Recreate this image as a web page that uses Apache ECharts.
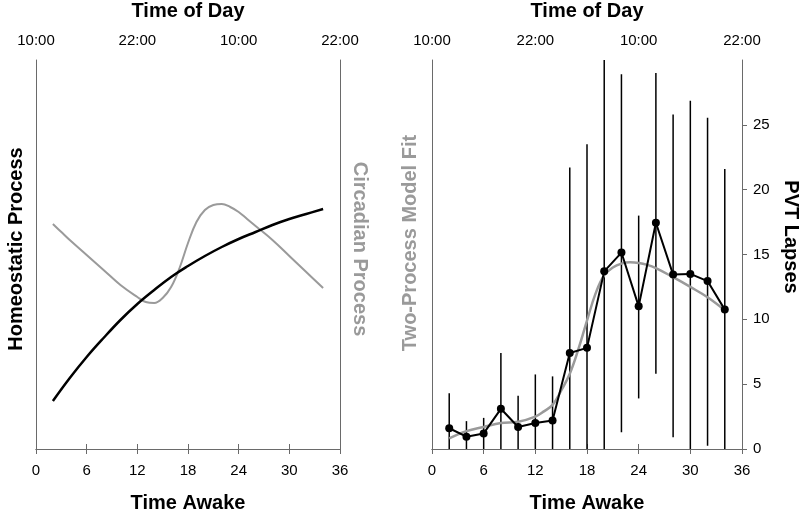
<!DOCTYPE html>
<html><head><meta charset="utf-8">
<script src="https://cdn.jsdelivr.net/npm/echarts@6/dist/echarts.min.js"></script>
<style>html,body{margin:0;padding:0;background:#fff}#c{width:800px;height:510px}</style>
</head><body><div id="c"></div>
<script>
// ---- data ----
const awakeMin = 0, awakeMax = 36, awakeStep = 6;
const dayTickLabels = {0: '10:00', 12: '22:00', 24: '10:00', 36: '22:00'};
const homeoT   = [2, 4, 6, 8, 10, 12, 14, 16, 18, 20, 22, 24, 26, 28, 30, 32, 34];
const homeoVal = [48, 71, 92, 111, 129, 145, 159, 172, 183, 193, 202, 210, 217, 224, 230, 235, 240];
const circT    = [2, 3, 4, 6, 8, 10, 12, 13, 14, 15, 16, 17, 18, 19, 20, 21, 22, 23, 24, 25, 26, 28, 30, 32, 34];
const circVal  = [225, 217, 209, 194, 179, 164, 152, 147, 146, 151, 162, 181, 206, 227, 239, 244, 245, 242, 237, 230, 223, 209, 193, 177, 161];
const pvtT     = [2, 4, 6, 8, 10, 12, 14, 16, 18, 20, 22, 24, 26, 28, 30, 32, 34];
const pvtMean  = [1.6, 0.95, 1.2, 3.1, 1.7, 2.0, 2.2, 7.4, 7.8, 13.7, 15.15, 11.0, 17.45, 13.45, 13.5, 12.95, 10.75];
const pvtUpper = [4.3, 2.15, 2.4, 7.4, 4.1, 5.75, 5.6, 21.7, 23.5, 30, 28.9, 18.0, 29.0, 25.8, 26.85, 25.55, 21.6];
const pvtLower = [0, 0, 0, 0, 0, 0, 0, 0, 0, 0, 1.3, 3.9, 5.8, 0.9, 0, 0.25, 0];
const fitT     = [2, 4, 6, 8, 10, 12, 13, 14, 15, 16, 17, 18, 19, 20, 21, 22, 23, 24, 25, 26, 28, 30, 32, 34];
const fitVal   = [0.82, 1.38, 1.7, 2.0, 2.1, 2.5, 2.9, 3.4, 4.5, 5.8, 7.7, 9.9, 12.0, 13.4, 14.0, 14.3, 14.4, 14.35, 14.2, 13.95, 13.25, 12.5, 11.7, 10.7];
const pvtMax = 30, pvtStep = 5;

// ---- chart ----
const FONT = '"Liberation Sans", Arial, sans-serif';
const AX = '#6a6a6a';
const GRAY = '#9a9a9a';
const zip = (a, b) => a.map((v, i) => [v, b[i]]);

function xAxisCfg(grid, pos) {
  const top = pos === 'top';
  return {
    type: 'value', gridIndex: grid, position: pos,
    min: awakeMin, max: awakeMax, interval: awakeStep,
    name: top ? 'Time of Day' : 'Time Awake',
    nameLocation: 'middle', nameGap: top ? 39 : 44,
    nameMoveOverlap: false,
    nameTextStyle: {fontFamily: FONT, fontWeight: 'bold', fontSize: 20, color: '#000'},
    axisLine: {show: true, lineStyle: {color: AX, width: 1}},
    axisTick: {show: true, inside: false, length: 5, lineStyle: {color: AX}},
    axisLabel: {
      show: true, margin: top ? 12 : 14, fontFamily: FONT, fontSize: 15, color: '#000',
      formatter: top ? (v => dayTickLabels[v] || '') : (v => String(v))
    },
    splitLine: {show: false}
  };
}
function yBox(grid, pos, max) {
  return {
    type: 'value', gridIndex: grid, position: pos, min: 0, max: max,
    axisLine: {show: true, onZero: false, lineStyle: {color: AX, width: 1}},
    axisTick: {show: false}, axisLabel: {show: false}, splitLine: {show: false}
  };
}

const chart = echarts.init(document.getElementById('c'), null, {renderer: 'canvas'});
chart.setOption({
  animation: false,
  backgroundColor: '#fff',
  grid: [
    {left: 36, right: 460, top: 60, bottom: 61, containLabel: false, outerBoundsMode: 'none'},
    {left: 432, right: 58, top: 60, bottom: 61, containLabel: false, outerBoundsMode: 'none'}
  ],
  xAxis: [
    xAxisCfg(0, 'bottom'), xAxisCfg(0, 'top'),
    xAxisCfg(1, 'bottom'), xAxisCfg(1, 'top')
  ],
  yAxis: [
    yBox(0, 'left', 389),
    yBox(0, 'right', 389),
    yBox(1, 'left', pvtMax),
    {
      type: 'value', gridIndex: 1, position: 'right', min: 0, max: pvtMax, interval: pvtStep,
      axisLine: {show: true, onZero: false, lineStyle: {color: AX, width: 1}},
      axisTick: {show: true, inside: false, length: 5, lineStyle: {color: AX}},
      axisLabel: {show: true, showMaxLabel: false, margin: 11, fontFamily: FONT, fontSize: 15, color: '#000'},
      splitLine: {show: false}
    }
  ],
  graphic: [
    {type: 'text', x: 16, y: 249, rotation: Math.PI / 2,
     style: {text: 'Homeostatic Process', align: 'center', verticalAlign: 'middle',
             font: 'bold 20px ' + FONT, fill: '#000'}},
    {type: 'text', x: 360, y: 249, rotation: -Math.PI / 2,
     style: {text: 'Circadian Process', align: 'center', verticalAlign: 'middle',
             font: 'bold 20px ' + FONT, fill: GRAY}},
    {type: 'text', x: 410, y: 243, rotation: Math.PI / 2,
     style: {text: 'Two-Process Model Fit', align: 'center', verticalAlign: 'middle',
             font: 'bold 20px ' + FONT, fill: GRAY}},
    {type: 'text', x: 791, y: 237, rotation: -Math.PI / 2,
     style: {text: 'PVT Lapses', align: 'center', verticalAlign: 'middle',
             font: 'bold 20px ' + FONT, fill: '#000'}}
  ],
  series: [
    {type: 'line', xAxisIndex: 0, yAxisIndex: 0, data: zip(circT, circVal), smooth: 0.4,
     symbol: 'none', lineStyle: {color: GRAY, width: 2}, z: 2},
    {type: 'line', xAxisIndex: 0, yAxisIndex: 0, data: zip(homeoT, homeoVal), smooth: 0.4,
     symbol: 'none', lineStyle: {color: '#000', width: 2.5}, z: 3},
    {type: 'custom', xAxisIndex: 2, yAxisIndex: 3, clip: true,
     data: pvtT.map((t, i) => [t, pvtLower[i], pvtUpper[i]]),
     renderItem: function (params, api) {
       const p0 = api.coord([api.value(0), api.value(1)]);
       const p1 = api.coord([api.value(0), api.value(2)]);
       return {type: 'line', shape: {x1: p0[0], y1: p0[1], x2: p1[0], y2: p1[1]},
               style: {stroke: '#000', lineWidth: 1.5}};
     }, z: 1},
    {type: 'line', xAxisIndex: 2, yAxisIndex: 3, data: zip(fitT, fitVal), smooth: 0.4,
     symbol: 'none', lineStyle: {color: GRAY, width: 2.5}, z: 2},
    {type: 'line', xAxisIndex: 2, yAxisIndex: 3, data: zip(pvtT, pvtMean),
     symbol: 'circle', symbolSize: 8, itemStyle: {color: '#000'},
     lineStyle: {color: '#000', width: 2}, z: 3}
  ]
});
</script>
</body></html>
